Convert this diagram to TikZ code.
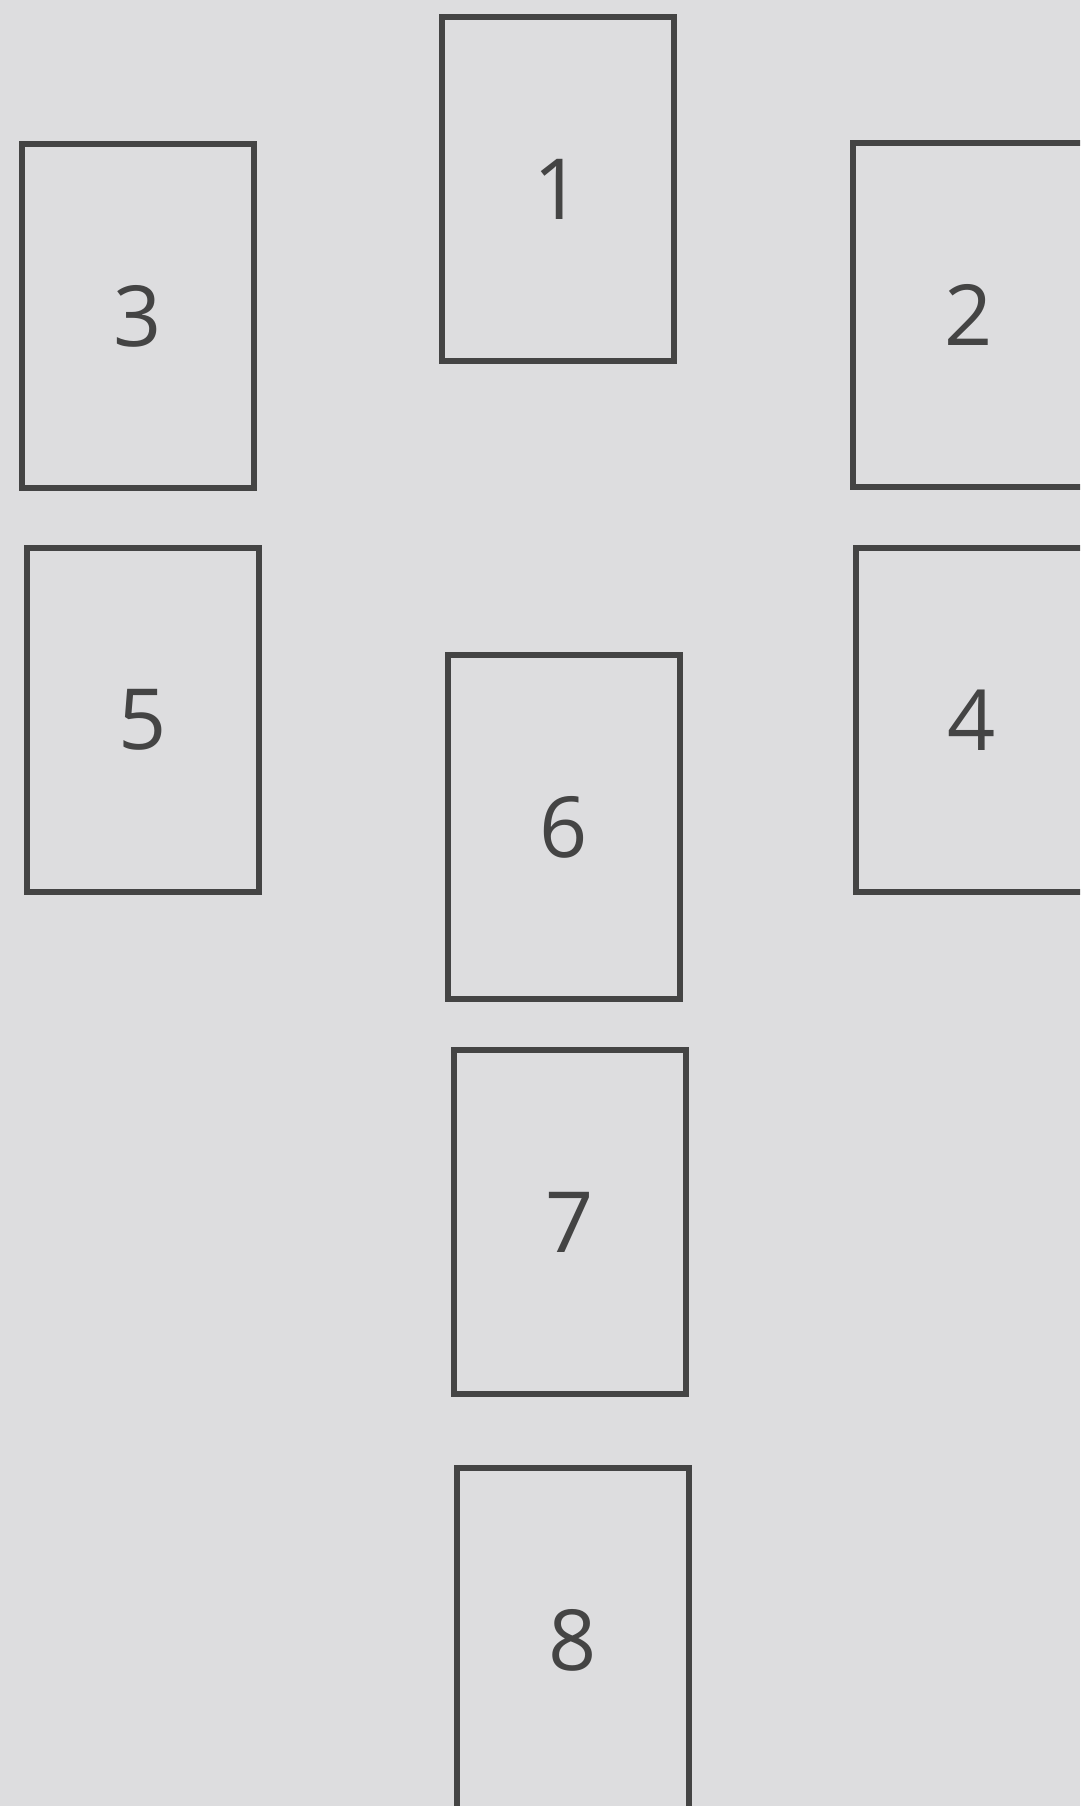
\documentclass[tikz,border=0pt]{standalone}
\usepackage{fontspec}
\setmainfont{Open Sans}
\definecolor{paper}{RGB}{221,221,223}
\definecolor{ink}{RGB}{68,68,68}

\begin{document}
\begin{tikzpicture}[x=0.02cm, y=-0.02cm,
  card/.style={rectangle, draw=ink, line width=3pt, minimum width=4.64cm, minimum height=6.88cm,
    inner sep=0pt, text=ink, font=\fontsize{48}{48}\selectfont}
]
\fill[paper] (0,0) rectangle (1080,1806);
\useasboundingbox (0,0) rectangle (1080,1806);
\clip (0,0) rectangle (1080,1806);
\node[card] (c1) at (558,189) {1};
\node[card] (c2) at (969,315) {2};
\node[card] (c3) at (138,316) {3};
\node[card] (c4) at (972,720) {4};
\node[card] (c5) at (143,720) {5};
\node[card] (c6) at (564,827) {6};
\node[card] (c7) at (570,1222) {7};
\node[card] (c8) at (573,1640) {8};
\end{tikzpicture}
\end{document}
